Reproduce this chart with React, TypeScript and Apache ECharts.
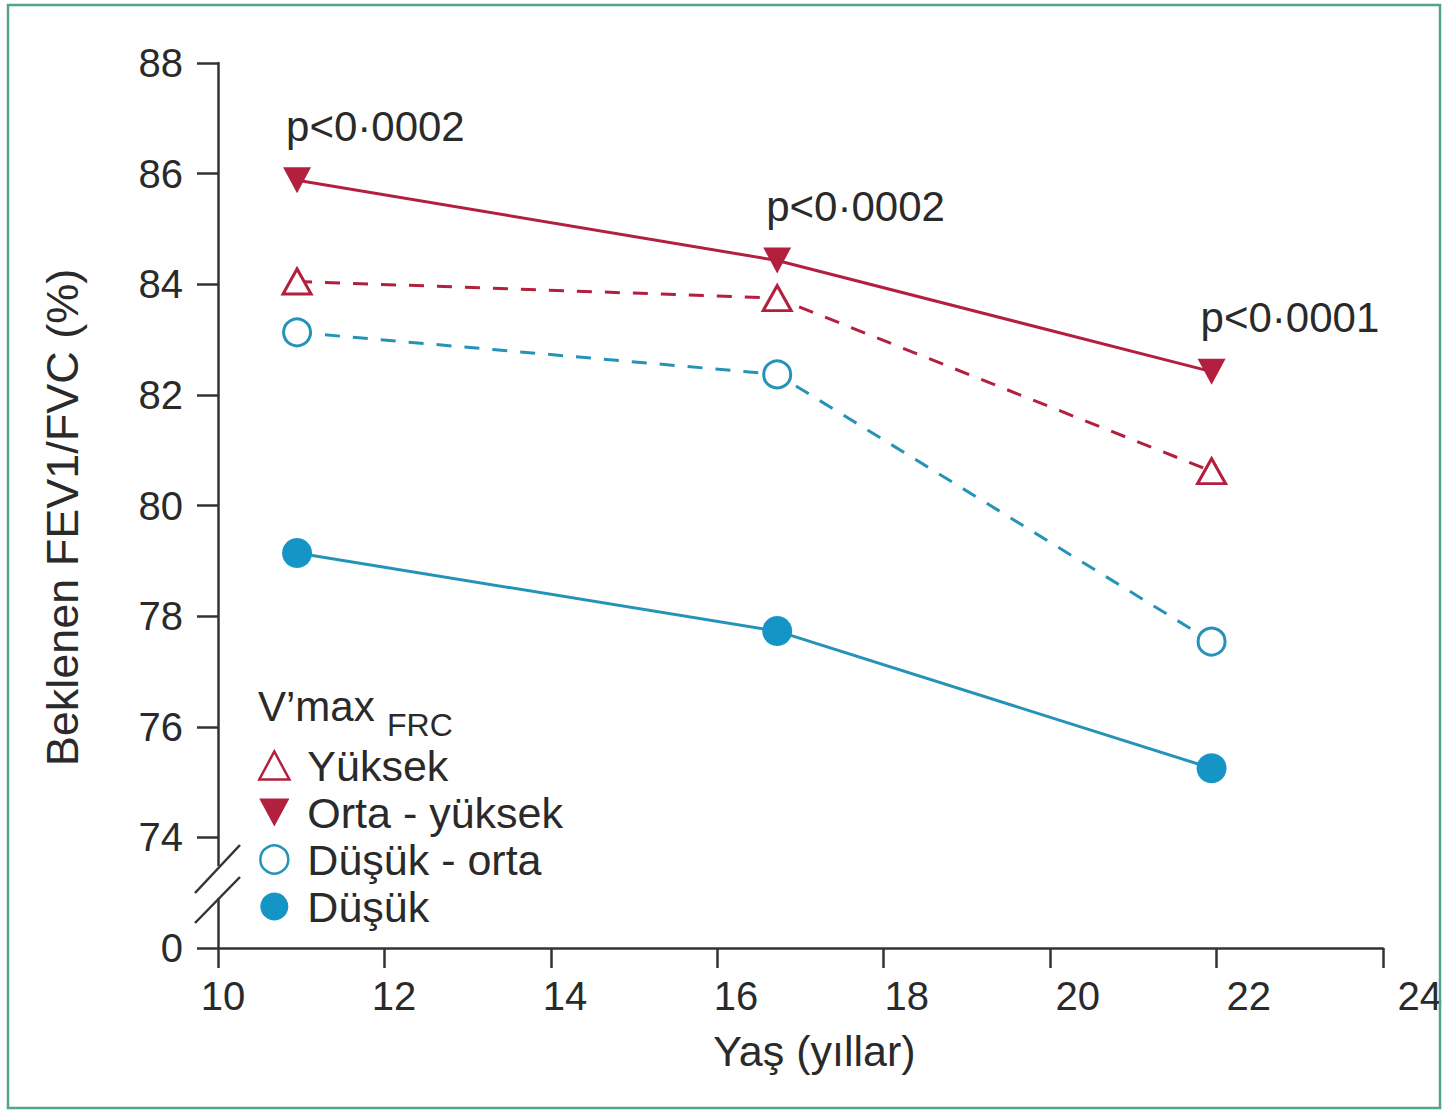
import React, { useEffect, useRef } from "react";
import * as echarts from "echarts";

// ---- data ----
const ages = [10.95, 16.72, 21.94];
const seriesNames = ["Yüksek", "Orta - yüksek", "Düşük - orta", "Düşük"];
const yuksek = [84.05, 83.75, 80.62];
const ortaYuksek = [85.88, 84.43, 82.42];
const dusukOrta = [83.13, 82.37, 77.54];
const dusuk = [79.14, 77.73, 75.25];
const pLabels = ["p<0·0002", "p<0·0002", "p<0·0001"];
const xTicks = [10, 12, 14, 16, 18, 20, 22, 24];
const yTickValues = [72, 74, 76, 78, 80, 82, 84, 86, 88];
const yTickLabels = ["0", "74", "76", "78", "80", "82", "84", "86", "88"];

const FONT = "Liberation Sans, Arial, Helvetica, sans-serif";
const TXT = "#2a2a2a";
const AX = "#333333";
const RED = "#b31f3e";
const TEAL = "#2593b8";
const TEAL_FILL = "#1595c6";
const DOWN_TRI = "path://M0,0L28,0L14,26Z";
const UP_TRI = "path://M14,0L28,26L0,26Z";

const pairs = (ys: number[]) => ages.map((x, i) => [x, ys[i]]);

export default function App() {
  const ref = useRef<HTMLDivElement>(null);
  useEffect(() => {
    if (!ref.current) return;
    const chart = echarts.init(ref.current, null, { renderer: "svg" });
    const option: any = {
      animation: false,
      backgroundColor: "#ffffff",
      textStyle: { fontFamily: FONT },
      grid: [
        { left: 218, right: 62, top: 63, bottom: 163 },
        { left: 223, width: 1197, top: 63, bottom: 163 },
      ],
      xAxis: [
        {
          type: "value",
          gridIndex: 0,
          min: xTicks[0],
          max: xTicks[xTicks.length - 1],
          interval: 2,
          splitLine: { show: false },
          axisLine: { show: true, lineStyle: { color: AX, width: 2.5 } },
          axisTick: { show: true, inside: false, length: 20, lineStyle: { color: AX, width: 2.5 } },
          axisLabel: { show: false },
          name: "Yaş (yıllar)",
          nameLocation: "middle",
          nameGap: 81,
          nameTextStyle: { fontSize: 43, color: TXT, fontFamily: FONT, padding: [0, 0, 0, 28] },
        },
        {
          type: "value",
          gridIndex: 1,
          min: xTicks[0],
          max: xTicks[xTicks.length - 1],
          interval: 2,
          splitLine: { show: false },
          axisLine: { show: false },
          axisTick: { show: false },
          axisLabel: {
            show: true,
            fontSize: 40,
            color: TXT,
            fontFamily: FONT,
            margin: 28,
            formatter: (v: number) => (xTicks.includes(v) ? String(v) : ""),
          },
        },
      ],
      yAxis: [
        {
          type: "value",
          gridIndex: 0,
          min: yTickValues[0],
          max: yTickValues[yTickValues.length - 1],
          interval: 2,
          splitLine: { show: false },
          axisLine: { show: true, lineStyle: { color: AX, width: 2.5 } },
          axisTick: { show: true, inside: false, length: 21, lineStyle: { color: AX, width: 2.5 } },
          axisLabel: {
            fontSize: 40,
            color: TXT,
            fontFamily: FONT,
            margin: 35,
            formatter: (v: number) => {
              const i = yTickValues.indexOf(v);
              return i >= 0 ? yTickLabels[i] : "";
            },
          },
          name: "Beklenen FEV1/FVC (%)",
          nameLocation: "middle",
          nameGap: 133,
          nameTextStyle: { fontSize: 45, color: TXT, fontFamily: FONT, padding: [0, 24, 0, 0] },
        },
        {
          type: "value",
          gridIndex: 1,
          min: yTickValues[0],
          max: yTickValues[yTickValues.length - 1],
          show: false,
        },
      ],
      legend: {
        orient: "vertical",
        left: 258,
        top: 744,
        padding: 0,
        itemWidth: 56,
        itemHeight: 28,
        itemGap: 4,
        selectedMode: false,
        textStyle: { fontSize: 43, color: TXT, fontFamily: FONT, lineHeight: 43 },
        data: [
          { name: seriesNames[0], icon: UP_TRI, itemStyle: { color: "#ffffff", borderColor: RED, borderWidth: 2.5 } },
          { name: seriesNames[1], icon: DOWN_TRI, itemStyle: { color: RED, borderWidth: 0 } },
          { name: seriesNames[2], icon: "circle", itemStyle: { color: "#ffffff", borderColor: TEAL, borderWidth: 2.5 } },
          { name: seriesNames[3], icon: "circle", itemStyle: { color: TEAL_FILL, borderWidth: 0 } },
        ],
      },
      series: [
        {
          name: seriesNames[0],
          type: "line",
          xAxisIndex: 0,
          yAxisIndex: 0,
          data: pairs(yuksek),
          symbol: "triangle",
          symbolSize: [28, 25],
          itemStyle: { color: "#ffffff", borderColor: RED, borderWidth: 3 },
          lineStyle: { color: RED, width: 3, type: [15, 13] },
          z: 3,
        },
        {
          name: seriesNames[1],
          type: "line",
          xAxisIndex: 0,
          yAxisIndex: 0,
          data: pairs(ortaYuksek),
          symbol: DOWN_TRI,
          symbolSize: [28, 26],
          itemStyle: { color: RED },
          lineStyle: { color: RED, width: 3 },
          label: {
            show: true,
            position: "inside",
            align: "left",
            verticalAlign: "middle",
            offset: [-11, -54],
            fontSize: 42,
            color: TXT,
            fontFamily: FONT,
            formatter: (p: any) => pLabels[p.dataIndex],
          },
          z: 4,
        },
        {
          name: seriesNames[2],
          type: "line",
          xAxisIndex: 0,
          yAxisIndex: 0,
          data: pairs(dusukOrta),
          symbol: "circle",
          symbolSize: 27,
          itemStyle: { color: "#ffffff", borderColor: TEAL, borderWidth: 3 },
          lineStyle: { color: TEAL, width: 3, type: [15, 13] },
          z: 3,
        },
        {
          name: seriesNames[3],
          type: "line",
          xAxisIndex: 0,
          yAxisIndex: 0,
          data: pairs(dusuk),
          symbol: "circle",
          symbolSize: 30,
          itemStyle: { color: TEAL_FILL },
          lineStyle: { color: TEAL, width: 3 },
          z: 3,
        },
      ],
      graphic: [
        {
          type: "rect",
          shape: { x: 8, y: 5, width: 1432, height: 1103 },
          style: { fill: "none", stroke: "#54a587", lineWidth: 2.5 },
          z: 100,
          silent: true,
        },
        {
          type: "rect",
          shape: { x: 210, y: 866, width: 16, height: 32 },
          style: { fill: "#ffffff" },
          z: 50,
          silent: true,
        },
        {
          type: "line",
          shape: { x1: 195, y1: 893, x2: 240, y2: 845 },
          style: { stroke: AX, lineWidth: 2.5 },
          z: 51,
          silent: true,
        },
        {
          type: "line",
          shape: { x1: 195, y1: 923, x2: 240, y2: 877 },
          style: { stroke: AX, lineWidth: 2.5 },
          z: 51,
          silent: true,
        },
        {
          type: "text",
          x: 258,
          y: 706,
          style: { text: "V’max", fontSize: 42, fill: TXT, fontFamily: FONT, verticalAlign: "middle", align: "left" },
          z: 51,
        },
        {
          type: "text",
          x: 387,
          y: 725,
          style: { text: "FRC", fontSize: 32, fill: TXT, fontFamily: FONT, verticalAlign: "middle", align: "left" },
          z: 51,
        },
      ],
    };
    chart.setOption(option);
    return () => chart.dispose();
  }, []);
  return (
    <div
      ref={ref}
      style={{ position: "fixed", left: 0, top: 0, width: 1445, height: 1111, background: "#fff" }}
    />
  );
}
